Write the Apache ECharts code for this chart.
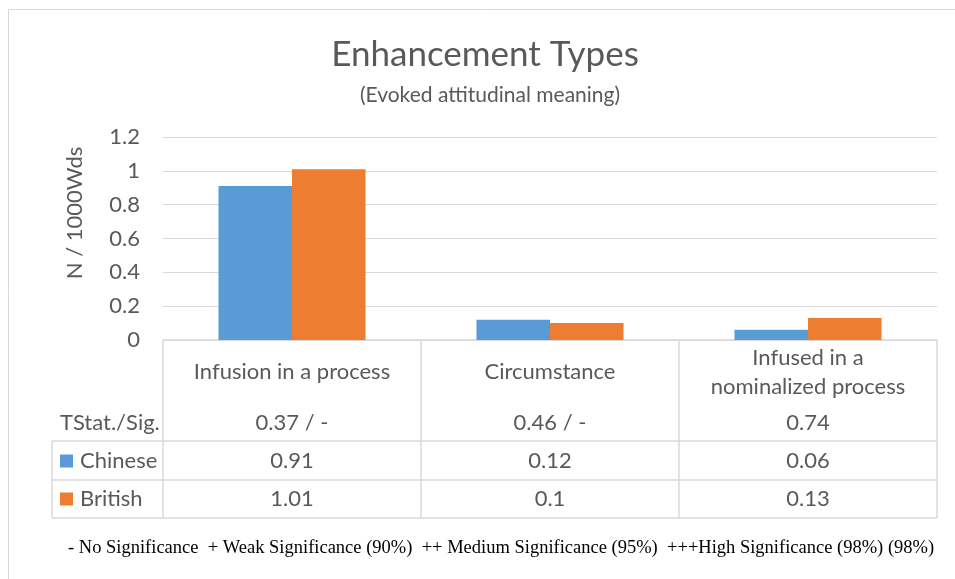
<!DOCTYPE html>
<html>
<head>
<meta charset="utf-8">
<title>Enhancement Types</title>
<script src="https://cdn.jsdelivr.net/npm/echarts@6/dist/echarts.min.js"></script>
<style>
  html, body { margin: 0; padding: 0; background: #ffffff; }
  #chart { width: 955px; height: 579px; }
</style>
</head>
<body>
<div id="chart"></div>
<script>
// Enhancement types, frequency per 1000 words, with t-statistics
const categories = ['Infusion in a process', 'Circumstance', 'Infused in a\nnominalized process'];
const tStatSig = ['0.37 / -', '0.46 / -', '0.74'];
const chinese = [0.91, 0.12, 0.06];
const british = [1.01, 0.1, 0.13];
const seriesNames = ['Chinese', 'British'];
const seriesColors = ['#5B9BD5', '#ED7D31'];
const yMin = 0, yMax = 1.2, yStep = 0.2;
const footnote = '- No Significance  + Weak Significance (90%)  ++ Medium Significance (95%)  +++High Significance (98%) (98%)';

const FONT = 'Lato';
const TEXT = '#595959';
const RULE = '#D9D9D9';
const BODY = 22;

const chart = echarts.init(document.getElementById('chart'));

chart.setOption({
  animation: false,
  textStyle: { fontFamily: FONT },
  grid: { left: 163, right: 18, top: 137, bottom: 239 },
  xAxis: {
    type: 'category',
    data: categories,
    axisLine: { lineStyle: { color: RULE, width: 1.5 } },
    axisTick: { show: false },
    axisLabel: { show: false }
  },
  yAxis: {
    type: 'value',
    min: yMin, max: yMax, interval: yStep,
    axisLine: { show: false },
    axisTick: { show: false },
    axisLabel: { color: TEXT, fontSize: BODY, margin: 23, fontFamily: FONT },
    splitLine: { lineStyle: { color: RULE, width: 1 } }
  },
  series: [
    { type: 'bar', name: seriesNames[0], data: chinese, barGap: '0%', barCategoryGap: '43%',
      itemStyle: { color: seriesColors[0] } },
    { type: 'bar', name: seriesNames[1], data: british, barGap: '0%', barCategoryGap: '43%',
      itemStyle: { color: seriesColors[1] } }
  ]
});

// Data table under the plot, aligned to the category bands
function buildTable() {
  const y0 = chart.convertToPixel({ yAxisIndex: 0 }, 0);
  const centers = categories.map((c, i) => chart.convertToPixel({ xAxisIndex: 0 }, i));
  const band = centers.length > 1 ? centers[1] - centers[0] : 258;
  const left = centers[0] - band / 2;
  const right = centers[centers.length - 1] + band / 2;
  const keyLeft = 52;

  const rowHeader = y0 + 32, rowStat = y0 + 83;
  const line1 = y0 + 101, rowA = y0 + 121, line2 = y0 + 140, rowB = y0 + 159, bottom = y0 + 178;

  const lineStyle = { stroke: RULE, lineWidth: 1.5 };
  const font = BODY + 'px ' + FONT;
  const els = [];

  // frame
  els.push({ type: 'rect', shape: { x: 8.5, y: 9.5, width: 2000, height: 2000 },
    style: { fill: 'none', stroke: RULE, lineWidth: 1 }, silent: true });

  // column borders
  for (let i = 0; i <= categories.length; i++) {
    const x = left + band * i;
    els.push({ type: 'line', shape: { x1: x, y1: y0, x2: x, y2: bottom }, style: lineStyle });
  }
  // key column border
  els.push({ type: 'line', shape: { x1: keyLeft, y1: line1, x2: keyLeft, y2: bottom }, style: lineStyle });
  [line1, line2, bottom].forEach(y => {
    els.push({ type: 'line', shape: { x1: keyLeft, y1: y, x2: right, y2: y }, style: lineStyle });
  });

  const cellText = (text, x, y) => ({
    type: 'text', x: x, y: y,
    style: { text: text, fill: TEXT, font: font, align: 'center', verticalAlign: 'middle', lineHeight: 29 }
  });

  categories.forEach((c, i) => {
    els.push(cellText(c, centers[i], rowHeader));
    els.push(cellText(tStatSig[i], centers[i], rowStat));
    els.push(cellText(String(chinese[i]), centers[i], rowA));
    els.push(cellText(String(british[i]), centers[i], rowB));
  });

  // row headers
  els.push({ type: 'text', x: 60, y: rowStat,
    style: { text: 'TStat./Sig.', fill: TEXT, font: font, align: 'left', verticalAlign: 'middle' } });
  [rowA, rowB].forEach((y, k) => {
    els.push({ type: 'rect', shape: { x: 60, y: y - 6.5, width: 13, height: 13 }, style: { fill: seriesColors[k] } });
    els.push({ type: 'text', x: 80, y: y,
      style: { text: seriesNames[k], fill: TEXT, font: font, align: 'left', verticalAlign: 'middle' } });
  });

  // titles
  els.push({ type: 'text', x: 485, y: 55,
    style: { text: 'Enhancement Types', fill: TEXT, font: '35px ' + FONT, align: 'center', verticalAlign: 'middle' } });
  els.push({ type: 'text', x: 490, y: 95,
    style: { text: '(Evoked attitudinal meaning)', fill: TEXT, font: '21px ' + FONT, align: 'center', verticalAlign: 'middle' } });

  // y axis title
  els.push({ type: 'text', x: 75, y: 213, rotation: Math.PI / 2,
    style: { text: 'N / 1000Wds', fill: TEXT, font: font, align: 'center', verticalAlign: 'middle' } });

  // significance key
  els.push({ type: 'text', x: 68, y: 548,
    style: { text: footnote, fill: '#000000', font: '18.5px "Liberation Serif"', align: 'left', verticalAlign: 'middle' } });

  chart.setOption({ graphic: { elements: els } });
}

buildTable();
</script>
</body>
</html>
